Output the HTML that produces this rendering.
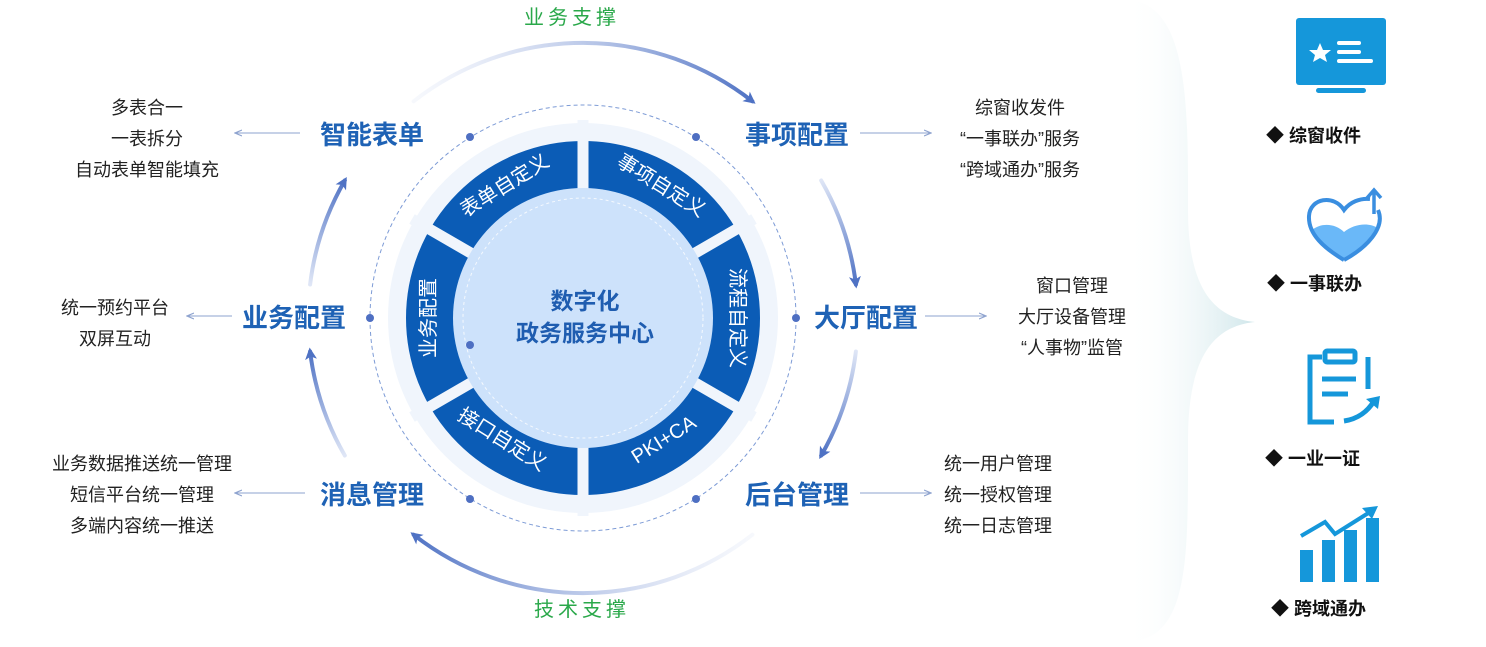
<!DOCTYPE html>
<html><head><meta charset="utf-8"><style>
html,body{margin:0;padding:0;background:#fff;}
body{width:1486px;height:642px;overflow:hidden;font-family:"Liberation Sans","Noto Sans CJK SC",sans-serif;}
svg text{font-family:"Liberation Sans","Noto Sans CJK SC",sans-serif;}
</style></head><body>
<svg width="1486" height="642" viewBox="0 0 1486 642" xmlns="http://www.w3.org/2000/svg">
<defs>
<marker id="ah" markerWidth="8" markerHeight="8" refX="6" refY="4" orient="auto" markerUnits="userSpaceOnUse">
<path d="M0,1 L7,4 L0,7" fill="none" stroke="#8ea3cf" stroke-width="1.2"/></marker>
<marker id="big" markerWidth="18" markerHeight="18" refX="8" refY="6" orient="auto" markerUnits="userSpaceOnUse">
<path d="M0,0 L12,6 L0,12 L3,6 Z" fill="#4f72c4"/></marker>
<linearGradient id="g1" gradientUnits="userSpaceOnUse" x1="413" y1="101" x2="752" y2="101"><stop offset="0" stop-color="#e3e9f7" stop-opacity="0.3"/><stop offset="1" stop-color="#4f72c4"/></linearGradient>
<linearGradient id="g2" gradientUnits="userSpaceOnUse" x1="821" y1="180" x2="856" y2="284"><stop offset="0" stop-color="#dfe6f6"/><stop offset="1" stop-color="#4f72c4"/></linearGradient>
<linearGradient id="g3" gradientUnits="userSpaceOnUse" x1="856" y1="351" x2="821" y2="455"><stop offset="0" stop-color="#dfe6f6"/><stop offset="1" stop-color="#4f72c4"/></linearGradient>
<linearGradient id="g4" gradientUnits="userSpaceOnUse" x1="752" y1="534" x2="413" y2="534"><stop offset="0" stop-color="#e3e9f7" stop-opacity="0.3"/><stop offset="1" stop-color="#4f72c4"/></linearGradient>
<linearGradient id="g5" gradientUnits="userSpaceOnUse" x1="345" y1="455" x2="310" y2="351"><stop offset="0" stop-color="#dfe6f6"/><stop offset="1" stop-color="#4f72c4"/></linearGradient>
<linearGradient id="g6" gradientUnits="userSpaceOnUse" x1="310" y1="284" x2="345" y2="180"><stop offset="0" stop-color="#dfe6f6"/><stop offset="1" stop-color="#4f72c4"/></linearGradient>
<linearGradient id="brace" x1="0" y1="0" x2="1" y2="0"><stop offset="0" stop-color="#ffffff" stop-opacity="0"/><stop offset="1" stop-color="#cfe6ea"/></linearGradient>
</defs>

<path d="M1125,0 C1190,0 1188,110 1188,210 C1188,290 1215,318 1255,322 C1215,326 1188,355 1188,440 C1188,560 1190,642 1125,642 Z" fill="url(#brace)"/>

<g fill="none" stroke-width="4" stroke-linecap="round">
<path d="M413.6,101.3 A275,275 0 0 1 752.4,101.3" stroke="url(#g1)" marker-end="url(#big)"/>
<path d="M821.2,180.5 A275,275 0 0 1 855.9,284.5" stroke="url(#g2)" marker-end="url(#big)"/>
<path d="M855.9,351.5 A275,275 0 0 1 821.2,455.5" stroke="url(#g3)" marker-end="url(#big)"/>
<path d="M752.4,534.7 A275,275 0 0 1 413.6,534.7" stroke="url(#g4)" marker-end="url(#big)"/>
<path d="M344.8,455.5 A275,275 0 0 1 310.1,351.5" stroke="url(#g5)" marker-end="url(#big)"/>
<path d="M310.1,284.5 A275,275 0 0 1 344.8,180.5" stroke="url(#g6)" marker-end="url(#big)"/>
</g>

<circle cx="583" cy="318" r="213" fill="none" stroke="#7d9bd6" stroke-width="1" stroke-dasharray="4 3"/>
<circle cx="583" cy="318" r="195" fill="#f0f5fc"/>
<circle cx="583" cy="318" r="152" fill="none" stroke="#0b5cb6" stroke-width="50"/>
<g stroke="#f0f5fc" stroke-width="11">
<line x1="583" y1="318" x2="583" y2="120"/>
<line x1="583" y1="318" x2="583" y2="516"/>
<line x1="583" y1="318" x2="754" y2="219"/>
<line x1="583" y1="318" x2="754" y2="417"/>
<line x1="583" y1="318" x2="412" y2="219"/>
<line x1="583" y1="318" x2="412" y2="417"/>
</g>
<circle cx="583" cy="318" r="130" fill="#cde2fb"/>
<circle cx="583" cy="318" r="120" fill="none" stroke="#ffffff" stroke-opacity="0.8" stroke-width="1" stroke-dasharray="3 3"/>

<g fill="#4e6fc2">
<circle cx="470" cy="137" r="4"/><circle cx="696" cy="137" r="4"/>
<circle cx="696" cy="499" r="4"/><circle cx="470" cy="499" r="4"/>
<circle cx="796" cy="318" r="4"/><circle cx="370" cy="318" r="4"/>
<circle cx="470" cy="345" r="4"/>
</g>

<g fill="#fff" font-size="20" text-anchor="middle" dominant-baseline="central">
<text transform="translate(505,186) rotate(-32)">表单自定义</text>
<text transform="translate(661,186) rotate(32)">事项自定义</text>
<text transform="translate(737,318) rotate(90)">流程自定义</text>
<text transform="translate(429,318) rotate(-90)">业务配置</text>
<text transform="translate(502,440) rotate(32)">接口自定义</text>
<text transform="translate(664,440) rotate(-32)">PKI+CA</text>
</g>

<g fill="#1f5db0" font-size="23" font-weight="bold" text-anchor="middle">
<text x="585" y="309">数字化</text>
<text x="585" y="341">政务服务中心</text>
</g>

<g fill="#1e62b5" font-size="26" font-weight="bold" text-anchor="middle">
<text x="372" y="144">智能表单</text>
<text x="797" y="144">事项配置</text>
<text x="294" y="327">业务配置</text>
<text x="866" y="327">大厅配置</text>
<text x="372" y="504">消息管理</text>
<text x="797" y="504">后台管理</text>
</g>

<g fill="#2aa84a" font-size="20" text-anchor="middle" letter-spacing="4">
<text x="572" y="24">业务支撑</text>
<text x="582" y="616">技术支撑</text>
</g>

<g stroke="#8ea3cf" stroke-width="1" marker-end="url(#ah)">
<line x1="300" y1="133" x2="236" y2="133"/>
<line x1="232" y1="316" x2="188" y2="316"/>
<line x1="305" y1="493" x2="236" y2="493"/>
<line x1="860" y1="133" x2="930" y2="133"/>
<line x1="925" y1="316" x2="985" y2="316"/>
<line x1="860" y1="493" x2="930" y2="493"/>
</g>

<g fill="#222" font-size="18" text-anchor="middle">
<text x="147" y="114">多表合一</text>
<text x="147" y="145">一表拆分</text>
<text x="147" y="176">自动表单智能填充</text>
<text x="115" y="314">统一预约平台</text>
<text x="115" y="345">双屏互动</text>
<text x="142" y="470">业务数据推送统一管理</text>
<text x="142" y="501">短信平台统一管理</text>
<text x="142" y="532">多端内容统一推送</text>
<text x="1020" y="114">综窗收发件</text>
<text x="1020" y="145">“一事联办”服务</text>
<text x="1020" y="176">“跨域通办”服务</text>
<text x="1072" y="292">窗口管理</text>
<text x="1072" y="323">大厅设备管理</text>
<text x="1072" y="354">“人事物”监管</text>
<text x="998" y="470">统一用户管理</text>
<text x="998" y="501">统一授权管理</text>
<text x="998" y="532">统一日志管理</text>
</g>

<!-- monitor -->
<rect x="1296" y="18" width="90" height="67" rx="3" fill="#1597da"/>
<rect x="1316" y="88" width="50" height="5" rx="2.5" fill="#1597da"/>
<polygon points="1320,43 1323,50 1331,50 1325,55 1327,62 1320,58 1313,62 1315,55 1309,50 1317,50" fill="#fff"/>
<rect x="1337" y="41" width="24" height="4" rx="2" fill="#fff"/>
<rect x="1337" y="50" width="24" height="4" rx="2" fill="#fff"/>
<rect x="1337" y="59" width="36" height="4" rx="2" fill="#fff"/>

<!-- heart -->
<g transform="translate(1306,188)">
<path d="M6,42 C16,34 30,36 38,44 C48,36 62,34 72,40 C66,54 50,64 38,72 C26,64 12,54 6,42 Z" fill="#6ab8f8"/>
<path d="M38,72 C18,60 2,46 3,28 C4,10 28,6 38,22 C44,14 54,10 64,11" fill="none" stroke="#3a8ee0" stroke-width="4"/>
<path d="M72,22 C80,40 60,60 38,72" fill="none" stroke="#3a8ee0" stroke-width="4"/>
<path d="M68,26 L68,3 M61,10 L68,2 L75,10" fill="none" stroke="#3a8ee0" stroke-width="3.5"/>
</g>

<!-- clipboard -->
<g transform="translate(1308,349)" fill="none" stroke="#1597da" stroke-width="5">
<path d="M14,8 L2,8 L2,73 L26,73 M60,8 L60,40"/>
<rect x="17" y="2" width="30" height="11" rx="2"/>
<path d="M14,30 L48,30 M14,45 L40,45 M36,72 C50,70 60,62 66,52"/>
<path d="M58,50 L72,47 L70,60 Z" fill="#1597da" stroke="none"/>
</g>

<!-- chart -->
<g transform="translate(1300,506)" fill="#1597da">
<rect x="0" y="44" width="13" height="32"/>
<rect x="22" y="34" width="13" height="42"/>
<rect x="44" y="24" width="13" height="52"/>
<rect x="66" y="12" width="13" height="64"/>
<path d="M1,30 L25,16 L35,28 L70,6" fill="none" stroke="#1597da" stroke-width="4"/>
<path d="M62,2 L78,0 L72,13 Z"/>
</g>

<g fill="#111" font-size="18" font-weight="bold">
<text x="1266" y="142">◆  综窗收件</text>
<text x="1267" y="290">◆  一事联办</text>
<text x="1265" y="465">◆  一业一证</text>
<text x="1271" y="615">◆  跨域通办</text>
</g>
</svg>
</body></html>
